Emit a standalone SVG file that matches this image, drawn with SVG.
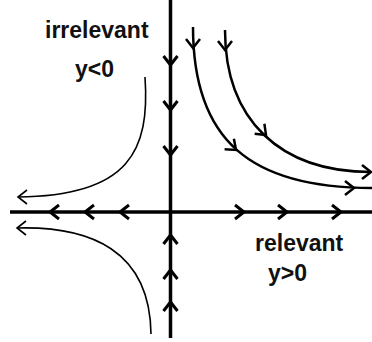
<svg xmlns="http://www.w3.org/2000/svg" xmlns:xlink="http://www.w3.org/1999/xlink" width="372" height="342" viewBox="0 0 372 342">
  <style>
    .axis { fill: none; stroke: #000; stroke-width: 3.5; }
    .flow { fill: none; stroke: #000; stroke-width: 2.5; }
    .thin { fill: none; stroke: #000; stroke-width: 1.6; }
    .chev { fill: none; stroke: #000; stroke-width: 3; stroke-linecap: butt; stroke-linejoin: miter; }
    .chev2 { fill: none; stroke: #000; stroke-width: 2.5; }
    .chevthin { fill: none; stroke: #000; stroke-width: 1.6; }
    .lbl { font-family: "Liberation Sans", Arial, sans-serif; font-weight: bold; font-size: 23px; fill: #111; }
  </style>
  <defs>
    <path id="chev" d="M-9,-7 L0,0 L-9,7"/>
  </defs>
  <rect width="372" height="342" fill="#fff"/>

  <g id="axes">
    <line class="axis" x1="170.5" y1="0" x2="170.5" y2="338"/>
    <line class="axis" x1="10" y1="212" x2="372" y2="212"/>
    <g class="chev">
      <use xlink:href="#chev" transform="translate(170.5,65) rotate(90)"/>
      <use xlink:href="#chev" transform="translate(170.5,110) rotate(90)"/>
      <use xlink:href="#chev" transform="translate(170.5,155) rotate(90)"/>
      <use xlink:href="#chev" transform="translate(170.5,235) rotate(-90)"/>
      <use xlink:href="#chev" transform="translate(170.5,270) rotate(-90)"/>
      <use xlink:href="#chev" transform="translate(170.5,302) rotate(-90)"/>
      <use xlink:href="#chev" transform="translate(50,212) rotate(180)"/>
      <use xlink:href="#chev" transform="translate(85,212) rotate(180)"/>
      <use xlink:href="#chev" transform="translate(120,212) rotate(180)"/>
      <use xlink:href="#chev" transform="translate(244,212)"/>
      <use xlink:href="#chev" transform="translate(287,212)"/>
      <use xlink:href="#chev" transform="translate(341,212)"/>
    </g>
  </g>

  <g id="connectors">
    <g id="flow-inner">
      <path class="flow" d="M193,27 C193,140 250,188 372,188"/>
      <g class="chev2">
        <use xlink:href="#chev" transform="translate(193,48) rotate(90)"/>
        <use xlink:href="#chev" transform="translate(236,150) rotate(41.5)"/>
        <use xlink:href="#chev" transform="translate(354,188)"/>
      </g>
    </g>
    <g id="flow-outer">
      <path class="flow" d="M225,30 C225,120 280,172 371,172"/>
      <g class="chev2">
        <use xlink:href="#chev" transform="translate(225,50) rotate(90)"/>
        <use xlink:href="#chev" transform="translate(266,135) rotate(44)"/>
        <use xlink:href="#chev" transform="translate(371,172)"/>
      </g>
    </g>
    <g id="flow-upper-left">
      <path class="thin" d="M145,77 C150,150 130,196 18,197"/>
      <use class="chevthin" xlink:href="#chev" transform="translate(18,197) rotate(180)"/>
    </g>
    <g id="flow-lower-left">
      <path class="thin" d="M17,228 C90,226 150,250 151,334"/>
      <use class="chevthin" xlink:href="#chev" transform="translate(17,228) rotate(180)"/>
    </g>
  </g>

  <g id="label-irrelevant">
    <text class="lbl" x="45" y="38">irrelevant</text>
    <text class="lbl" x="75" y="77">y&lt;0</text>
  </g>
  <g id="label-relevant">
    <text class="lbl" x="255" y="251">relevant</text>
    <text class="lbl" x="268" y="281">y&gt;0</text>
  </g>
</svg>
